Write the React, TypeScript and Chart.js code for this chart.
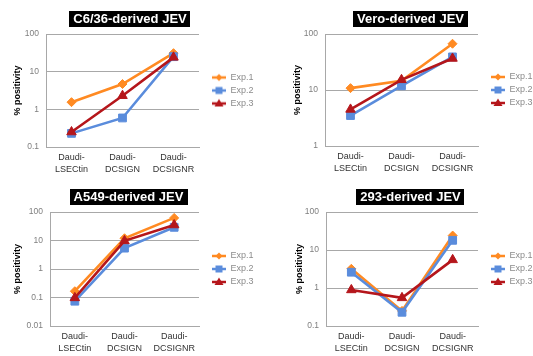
import React, { useEffect, useRef } from 'react';
import { Chart, registerables } from 'chart.js';

Chart.register(...registerables);

// ---- data ----
const categories = [['Daudi-', 'LSECtin'], ['Daudi-', 'DCSIGN'], ['Daudi-', 'DCSIGNR']];
const seriesNames = ['Exp.1', 'Exp.2', 'Exp.3'];
const panelTitles = ['C6/36-derived JEV', 'Vero-derived JEV', 'A549-derived JEV', '293-derived JEV'];
const yAxisTitle = '% positivity';

const c636Exp1 = [1.55, 4.7, 31];
const c636Exp2 = [0.23, 0.59, 25];
const c636Exp3 = [0.25, 2.3, 24];

const veroExp1 = [10.8, 14.6, 67];
const veroExp2 = [3.5, 11.9, 39];
const veroExp3 = [4.5, 15.2, 36.6];

const a549Exp1 = [0.166, 12, 62];
const a549Exp2 = [0.074, 5.4, 29];
const a549Exp3 = [0.097, 9.7, 35];

const h293Exp1 = [3.2, 0.25, 24];
const h293Exp2 = [2.6, 0.23, 18];
const h293Exp3 = [0.89, 0.55, 5.5];

const c636Ticks = [0.1, 1, 10, 100];
const veroTicks = [1, 10, 100];
const a549Ticks = [0.01, 0.1, 1, 10, 100];
const h293Ticks = [0.1, 1, 10, 100];

// ---- styles ----
const FONT = '"Liberation Sans", Arial, sans-serif';
const seriesColors = ['#FF8A22', '#5A8CDC', '#B5161B'];
const seriesPointStyles = ['rectRot', 'rect', 'triangle'];
const seriesPointRadius = [4.5, 5.5, 5.5];
const GRID = '#a8a8a8';

const panels = [
  { title: panelTitles[0], series: [c636Exp1, c636Exp2, c636Exp3], ticks: c636Ticks,
    box: { x: 0, y: 0, w: 266, h: 178 }, area: { left: 46, right: 199, top: 34, bottom: 147 }, yTitleX: 18, titleCx: 130 },
  { title: panelTitles[1], series: [veroExp1, veroExp2, veroExp3], ticks: veroTicks,
    box: { x: 266, y: 0, w: 267, h: 178 }, area: { left: 59, right: 212, top: 34, bottom: 146 }, yTitleX: 32, titleCx: 144.5 },
  { title: panelTitles[2], series: [a549Exp1, a549Exp2, a549Exp3], ticks: a549Ticks,
    box: { x: 0, y: 178, w: 266, h: 178 }, area: { left: 50, right: 199, top: 34, bottom: 148 }, yTitleX: 18, titleCx: 128.5 },
  { title: panelTitles[3], series: [h293Exp1, h293Exp2, h293Exp3], ticks: h293Ticks,
    box: { x: 266, y: 178, w: 267, h: 178 }, area: { left: 60, right: 212, top: 34, bottom: 148 }, yTitleX: 34, titleCx: 144.5 },
];

const LEG_PAD = 4;
const LEG_FONT = 9;
const ICON_MARGIN = 9;
const ICON_LINE = 14;

function makeLegendIcon(color: string, style: string): HTMLCanvasElement {
  const c = document.createElement('canvas');
  c.width = ICON_MARGIN + ICON_LINE;
  c.height = 12;
  const ctx = c.getContext('2d')!;
  const cy = 6;
  ctx.strokeStyle = color;
  ctx.lineWidth = 2.5;
  ctx.beginPath();
  ctx.moveTo(ICON_MARGIN, cy);
  ctx.lineTo(ICON_MARGIN + ICON_LINE, cy);
  ctx.stroke();
  ctx.fillStyle = color;
  const cx = ICON_MARGIN + ICON_LINE / 2;
  ctx.beginPath();
  if (style === 'rectRot') {
    const r = 3.5;
    ctx.moveTo(cx, cy - r); ctx.lineTo(cx + r, cy); ctx.lineTo(cx, cy + r); ctx.lineTo(cx - r, cy);
  } else if (style === 'rect') {
    ctx.rect(cx - 3.5, cy - 3.5, 7, 7);
  } else {
    ctx.moveTo(cx, cy - 4.5); ctx.lineTo(cx + 4.5, cy + 3); ctx.lineTo(cx - 4.5, cy + 3);
  }
  ctx.closePath();
  ctx.fill();
  return c;
}

const boxTitlePlugin = {
  id: 'boxTitle',
  afterDraw(chart: any, _args: any, opts: any) {
    const ctx = chart.ctx;
    ctx.save();
    ctx.font = `bold 13px ${FONT}`;
    const w = ctx.measureText(opts.text).width;
    const bw = w + 8;
    const bh = 16;
    ctx.fillStyle = '#000';
    ctx.fillRect(Math.round(opts.cx - bw / 2), Math.round(opts.cy - bh / 2), Math.round(bw), bh);
    ctx.fillStyle = '#fff';
    ctx.textAlign = 'center';
    ctx.textBaseline = 'middle';
    ctx.fillText(opts.text, opts.cx, opts.cy + 0.5);
    ctx.restore();
  },
};

function Panel({ p }: { p: (typeof panels)[number] }) {
  const ref = useRef<HTMLCanvasElement | null>(null);
  useEffect(() => {
    if (!ref.current) return;
    const icons = seriesNames.map((_, i) => makeLegendIcon(seriesColors[i], seriesPointStyles[i]));
    const mctx = document.createElement('canvas').getContext('2d')!;
    mctx.font = `normal ${LEG_FONT}px ${FONT}`;
    const tw = Math.max(...seriesNames.map((s) => mctx.measureText(s).width));
    const boxW = ICON_MARGIN + ICON_LINE;
    const legendW = LEG_PAD + (boxW + LEG_FONT / 2 + tw) + 10;
    const padRight = p.box.w - p.area.right - legendW;

    const chart = new Chart(ref.current, {
      type: 'line',
      data: {
        labels: categories,
        datasets: p.series.map((vals, i) => ({
          label: seriesNames[i],
          data: vals,
          borderColor: seriesColors[i],
          backgroundColor: seriesColors[i],
          pointBackgroundColor: seriesColors[i],
          pointBorderColor: seriesColors[i],
          borderWidth: 2.6,
          pointStyle: seriesPointStyles[i] as any,
          pointRadius: seriesPointRadius[i],
          pointBorderWidth: 1,
          tension: 0,
          order: 2 - i,
        })),
      },
      plugins: [boxTitlePlugin],
      options: {
        animation: false,
        responsive: false,
        maintainAspectRatio: false,
        layout: { padding: { top: p.area.top, left: 0, bottom: 0, right: padRight } },
        scales: {
          x: {
            type: 'category',
            offset: true,
            grid: { display: false, drawTicks: false },
            border: { display: true, color: GRID, width: 1 },
            ticks: { color: '#333', font: { family: FONT, size: 9, lineHeight: 1.33 }, padding: 5, maxRotation: 0, autoSkip: false },
            afterFit: (s: any) => { s.height = p.box.h - p.area.bottom; },
          },
          y: {
            type: 'logarithmic',
            min: p.ticks[0],
            max: p.ticks[p.ticks.length - 1],
            grid: { color: GRID, drawTicks: false, lineWidth: 1 },
            border: { display: true, color: GRID, width: 1 },
            ticks: {
              color: '#7f7f7f',
              font: { family: FONT, size: 8.5 },
              padding: 7,
              callback: (v: any) => String(v),
            },
            afterBuildTicks: (s: any) => { s.ticks = p.ticks.map((v) => ({ value: v })); },
            afterFit: (s: any) => { s.width = p.area.left; },
            title: {
              display: true,
              text: yAxisTitle,
              color: '#000',
              font: { family: FONT, size: 9, weight: 'bold' },
              padding: { top: p.yTitleX - 5.4, bottom: 0 },
            },
          },
        },
        plugins: {
          title: { display: false },
          tooltip: { enabled: false },
          legend: {
            display: true,
            position: 'right',
            align: 'center',
            fullSize: false,
            labels: {
              usePointStyle: true,
              pointStyleWidth: boxW,
              padding: LEG_PAD,
              color: '#8c8c8c',
              font: { family: FONT, size: LEG_FONT },
              generateLabels: () =>
                seriesNames.map((name, i) => ({
                  text: name,
                  fillStyle: seriesColors[i],
                  strokeStyle: seriesColors[i],
                  fontColor: '#8c8c8c',
                  lineWidth: 0,
                  pointStyle: icons[i] as any,
                  hidden: false,
                  datasetIndex: i,
                })),
            },
          },
          boxTitle: { text: p.title, cx: p.titleCx, cy: 18.5 },
        } as any,
      },
    });
    return () => chart.destroy();
  }, [p]);
  return (
    <canvas
      ref={ref}
      width={p.box.w}
      height={p.box.h}
      style={{ position: 'absolute', left: p.box.x, top: p.box.y, width: p.box.w, height: p.box.h }}
    />
  );
}

export default function App() {
  return (
    <div style={{ position: 'absolute', left: 0, top: 0, width: 533, height: 356, background: '#fff' }}>
      {panels.map((p, i) => (
        <Panel key={i} p={p} />
      ))}
    </div>
  );
}
